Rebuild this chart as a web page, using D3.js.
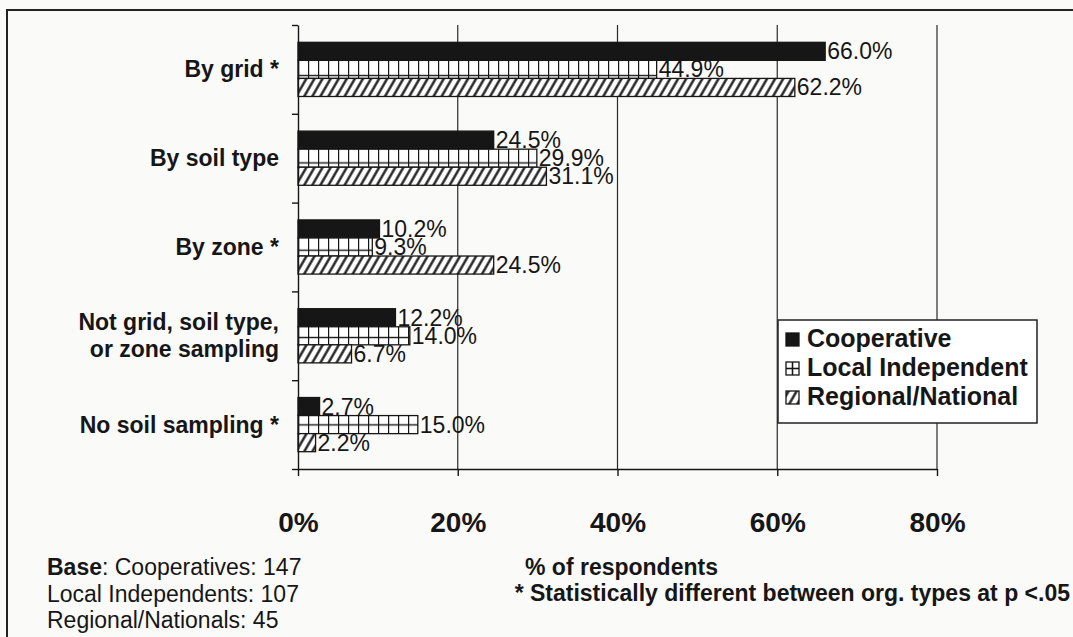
<!DOCTYPE html>
<html>
<head>
<meta charset="utf-8">
<script src="https://cdn.jsdelivr.net/npm/d3@7"></script>
<style>
  html, body { margin: 0; padding: 0; background: #fafaf8; }
  svg { display: block; }
  text { font-family: "Liberation Sans", Arial, Helvetica, sans-serif; fill: #161616; }
</style>
</head>
<body>
<svg id="chart" width="1073" height="637"></svg>
<script>
// ---- data ----
const categories = ["By grid *", "By soil type", "By zone *", "Not grid, soil type,|or zone sampling", "No soil sampling *"];
const seriesNames = ["Cooperative", "Local Independent", "Regional/National"];
const cooperative = [66.0, 24.5, 10.2, 12.2, 2.7];
const localIndependent = [44.9, 29.9, 9.3, 14.0, 15.0];
const regionalNational = [62.2, 31.1, 24.5, 6.7, 2.2];
const xTicks = [0, 20, 40, 60, 80];
const baseLines = [["Base", ": Cooperatives: 147"], ["", "Local Independents: 107"], ["", "Regional/Nationals: 45"]];
const axisTitle = "% of respondents";
const footnote = "* Statistically different between org. types at p <.05";

const seriesValues = [cooperative, localIndependent, regionalNational];
const rows = categories.map((c, i) => ({ cat: c, vals: seriesNames.map((s, j) => ({ series: s, si: j, v: seriesValues[j][i], ci: i })) }));

const svg = d3.select("#chart");
const ink = "#161616";

// ---- scales ----
const x = d3.scaleLinear().domain([0, 80]).range([298, 937]);
const y0 = d3.scaleBand().domain(categories).range([25, 469]).paddingInner(0.39).paddingOuter(0.195);
const y1 = d3.scaleBand().domain(seriesNames).range([0, y0.bandwidth()]);
const yEdge = d3.scaleLinear().domain([0, categories.length]).range([25, 469]);

// ---- patterns ----
const defs = svg.append("defs");
const hatch = defs.append("pattern").attr("id", "hatch").attr("patternUnits", "userSpaceOnUse")
  .attr("width", 7).attr("height", 7).attr("patternTransform", "rotate(30)");
hatch.append("rect").attr("width", 7).attr("height", 7).attr("fill", "#fff");
hatch.append("line").attr("x1", 3.5).attr("y1", -1).attr("x2", 3.5).attr("y2", 8).attr("stroke", ink).attr("stroke-width", 2.3);

const h = y1.bandwidth();
rows.forEach((r, i) => {
  const by = y0(r.cat) + y1("Local Independent");
  const p = defs.append("pattern").attr("id", "loc" + i).attr("patternUnits", "userSpaceOnUse")
    .attr("x", x(0)).attr("y", by).attr("width", 10).attr("height", h);
  p.append("rect").attr("width", 10).attr("height", h).attr("fill", "#fff");
  p.append("line").attr("x1", 0.5).attr("x2", 0.5).attr("y1", 0).attr("y2", h).attr("stroke", ink).attr("stroke-width", 1.4);
  p.append("line").attr("x1", 0).attr("x2", 10).attr("y1", h / 2).attr("y2", h / 2).attr("stroke", ink).attr("stroke-width", 1.4);
});
const locSw = defs.append("pattern").attr("id", "locSw").attr("patternUnits", "objectBoundingBox")
  .attr("patternContentUnits", "objectBoundingBox").attr("width", 1).attr("height", 1);
locSw.append("rect").attr("width", 1).attr("height", 1).attr("fill", "#fff");
locSw.append("line").attr("x1", 0.5).attr("x2", 0.5).attr("y1", 0).attr("y2", 1).attr("stroke", ink).attr("stroke-width", 0.12);
locSw.append("line").attr("x1", 0).attr("x2", 1).attr("y1", 0.5).attr("y2", 0.5).attr("stroke", ink).attr("stroke-width", 0.12);

function fillFor(d) {
  if (d.si === 0) return ink;
  if (d.si === 1) return "url(#loc" + d.ci + ")";
  return "url(#hatch)";
}

// ---- outer frame ----
svg.append("path").attr("d", "M7,637 V10 H1073").attr("fill", "none").attr("stroke", "#222").attr("stroke-width", 2);

// ---- gridlines ----
svg.append("g").selectAll("line").data(xTicks.filter(t => t > 0)).join("line")
  .attr("x1", d => x(d)).attr("x2", d => x(d)).attr("y1", 25).attr("y2", 469)
  .attr("stroke", "#2a2a2a").attr("stroke-width", 1.2);

// ---- bars ----
const groups = svg.append("g").selectAll("g").data(rows).join("g")
  .attr("transform", d => `translate(0,${y0(d.cat)})`);
groups.selectAll("rect").data(d => d.vals).join("rect")
  .attr("x", x(0)).attr("y", d => y1(d.series)).attr("width", d => x(d.v) - x(0)).attr("height", y1.bandwidth())
  .attr("fill", fillFor).attr("stroke", ink).attr("stroke-width", 1.3);
groups.selectAll("text").data(d => d.vals).join("text")
  .attr("x", d => x(d.v) + 2).attr("y", d => y1(d.series) + y1.bandwidth() - 1)
  .attr("font-size", 23).text(d => d.v.toFixed(1) + "%");

// ---- y axis (boundary ticks) ----
const yAxis = svg.append("g").attr("transform", `translate(${x(0)},0)`)
  .call(d3.axisLeft(yEdge).ticks(categories.length).tickSize(6).tickSizeOuter(0).tickFormat(""));
yAxis.selectAll("path, line").attr("stroke", ink).attr("stroke-width", 1.4);

// category labels
const catLabels = svg.append("g").selectAll("text").data(categories).join("text")
  .attr("text-anchor", "end").attr("font-size", 23).attr("font-weight", "bold")
  .attr("transform", d => `translate(279,${y0(d) + y0.bandwidth() / 2 + 8})`);
catLabels.each(function (d) {
  const parts = d.split("|");
  const t = d3.select(this);
  parts.forEach((p, k) => {
    t.append("tspan").attr("x", 0).attr("y", (k - (parts.length - 1) / 2) * 27).text(p);
  });
});

// ---- x axis ----
const xAxis = svg.append("g").attr("transform", "translate(0,469)")
  .call(d3.axisBottom(x).tickValues(xTicks).tickSize(7).tickSizeOuter(0).tickPadding(36).tickFormat(d => d + "%"));
xAxis.selectAll("path, line").attr("stroke", ink).attr("stroke-width", 1.4);
xAxis.selectAll("text").attr("font-size", 28).attr("font-weight", "bold").attr("fill", ink)
  .attr("font-family", '"Liberation Sans", Arial, sans-serif');

// ---- legend ----
const lg = svg.append("g");
lg.append("rect").attr("x", 778).attr("y", 320).attr("width", 259).attr("height", 103)
  .attr("fill", "#fff").attr("stroke", "#222").attr("stroke-width", 1.5);
const lBase = [347, 376, 405];
const li = lg.selectAll("g").data(seriesNames).join("g");
li.append("rect").attr("x", 786).attr("y", (d, i) => lBase[i] - 14).attr("width", 13).attr("height", 13)
  .attr("fill", (d, i) => i === 0 ? ink : (i === 1 ? "url(#locSw)" : "url(#hatch)"))
  .attr("stroke", ink).attr("stroke-width", 1.3);
li.append("text").attr("x", 807).attr("y", (d, i) => lBase[i]).attr("font-size", 25).attr("font-weight", "bold").text(d => d);

// ---- footer texts ----
svg.append("text").attr("x", 525).attr("y", 575).attr("font-size", 23).attr("font-weight", "bold").text(axisTitle);
svg.append("text").attr("x", 1070).attr("y", 601).attr("text-anchor", "end").attr("font-size", 23).attr("font-weight", "bold").text(footnote);
const bt = svg.append("g").selectAll("text").data(baseLines).join("text")
  .attr("x", 47).attr("y", (d, i) => 575 + i * 26.5).attr("font-size", 23);
bt.append("tspan").attr("font-weight", "bold").text(d => d[0]);
bt.append("tspan").text(d => d[1]);
</script>
</body>
</html>
